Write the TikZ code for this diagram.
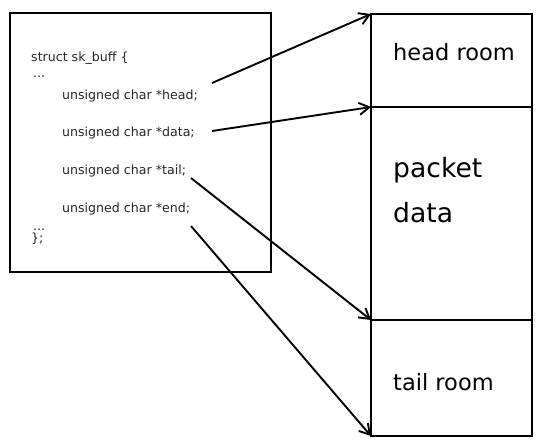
\documentclass[tikz,border=0pt]{standalone}
\usepackage{fontspec}
\setmainfont{DejaVu Sans}
\usetikzlibrary{arrows.meta}
\begin{document}
\begin{tikzpicture}[x=1pt,y=-1pt,
  boxline/.style={draw=black,line width=2pt},
  code/.style={anchor=base west,inner sep=0pt,font=\fontsize{12.6}{14}\selectfont,text=black!85},
  big/.style={anchor=base west,inner sep=0pt,font=\fontsize{22.5}{26}\selectfont},
  bigger/.style={anchor=base west,inner sep=0pt,font=\fontsize{26.6}{30}\selectfont},
  ptr/.style={draw=black,line width=1.9pt,-{Straight Barb[length=10pt,width=12pt,line width=1.9pt]}}]
\useasboundingbox (0,0) rectangle (538,440);
% left struct box
\draw[boxline] (10,13) rectangle (271,272);
\node[code] (s0) at (31,61) {struct sk\_buff \{};
\node[code] (d1) at (33,77) {...};
\node[code] (hd) at (62,99) {unsigned char *head;};
\node[code] (dt) at (62,136) {unsigned char *data;};
\node[code] (tl) at (62,174) {unsigned char *tail;};
\node[code] (en) at (62,212) {unsigned char *end;};
\node[code] (d2) at (33,230) {...};
\node[code] (s1) at (31,242) {\};};
% right buffer column
\coordinate (rTop) at (371,14);
\coordinate (rD) at (371,107);
\coordinate (rT) at (371,320);
\coordinate (rE) at (371,436);
\draw[boxline] (rTop) rectangle (532,436);
\draw[boxline] (rD) -- (532,107);
\draw[boxline] (rT) -- (532,320);
\node[big] (hr) at (393,60) {head room};
\node[bigger] (pk) at (393,177) {packet};
\node[bigger] (pd) at (393,222) {data};
\node[big] (tr) at (393,390) {tail room};
% pointer start points
\coordinate (sH) at (212,83);
\coordinate (sD) at (212,131);
\coordinate (sT) at (191,178);
\coordinate (sE) at (191,226);
\draw[ptr] (sH) -- (rTop);
\draw[ptr] (sD) -- (rD);
\draw[ptr] (sT) -- (rT);
\draw[ptr] (sE) -- (rE);
\end{tikzpicture}
\end{document}
